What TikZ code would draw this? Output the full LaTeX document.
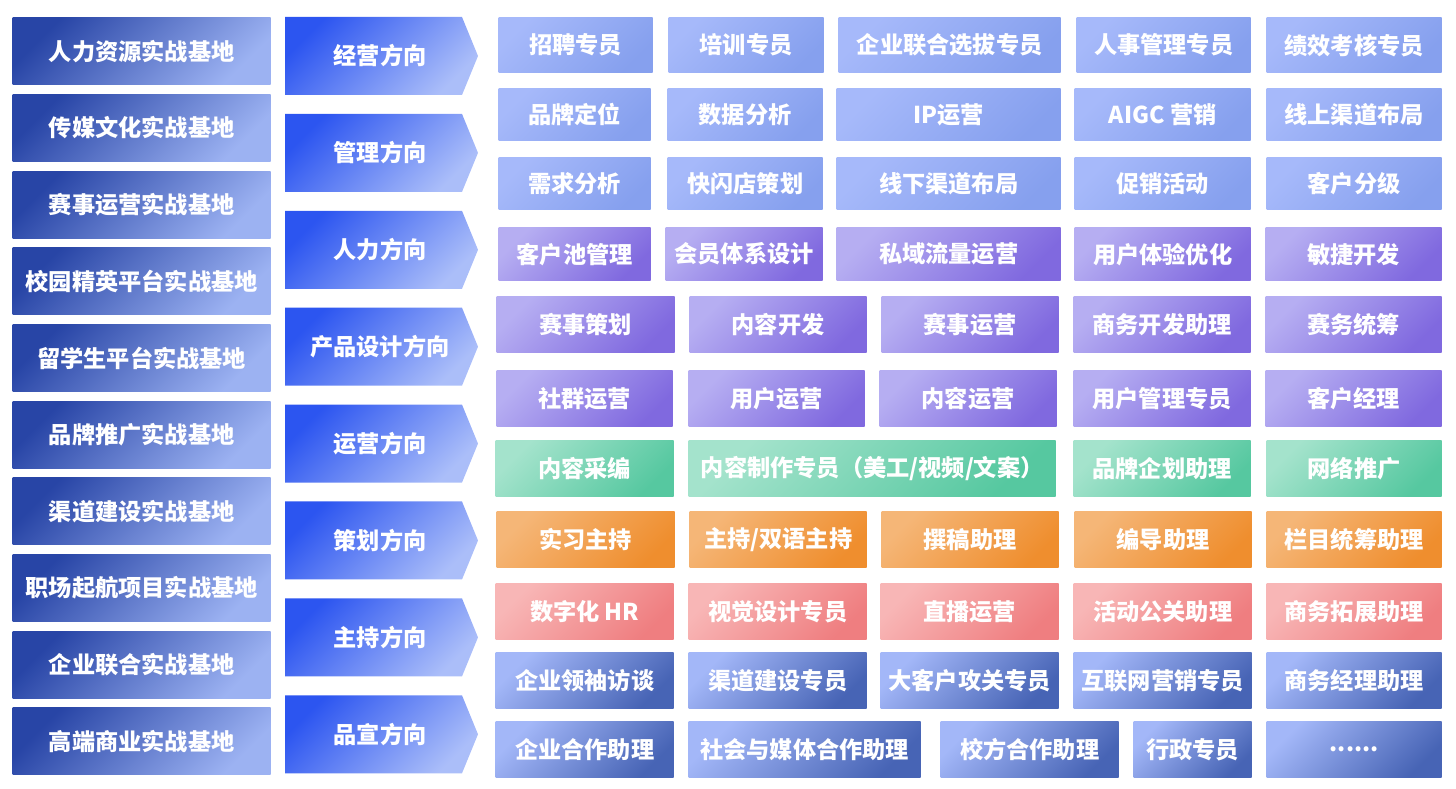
\documentclass[tikz,border=0pt]{standalone}
\usepackage{fontspec}
\setmainfont{Noto Sans CJK SC}
\usetikzlibrary{calc}

\tikzset{
    lbl/.style={text=white, font=\bfseries\fontsize{6.6}{8}\selectfont, inner sep=0pt},
    shadeit/.style 2 args={top color=#1, bottom color=#2, shading angle=45},
    cellblue/.style={shadeit={cellA}{cellB}},
    cellpurple/.style={shadeit={purA}{purB}},
    cellgreen/.style={shadeit={grnA}{grnB}},
    cellorange/.style={shadeit={oraA}{oraB}},
    cellpink/.style={shadeit={pnkA}{pnkB}},
    celldeep/.style={shadeit={depA}{depB}},
}
\definecolor{baseA}{HTML}{2845A6}
\definecolor{baseB}{HTML}{9CB2F2}
\definecolor{arrA}{HTML}{2C55F0}
\definecolor{arrB}{HTML}{ABBEF9}
\definecolor{cellA}{HTML}{A6B9FA}
\definecolor{cellB}{HTML}{86A0EE}
\definecolor{purA}{HTML}{B6AEF2}
\definecolor{purB}{HTML}{8069DF}
\definecolor{grnA}{HTML}{A4E3CC}
\definecolor{grnB}{HTML}{56C8A0}
\definecolor{oraA}{HTML}{F5B677}
\definecolor{oraB}{HTML}{EF8E2E}
\definecolor{pnkA}{HTML}{F8B6B6}
\definecolor{pnkB}{HTML}{EF7E80}
\definecolor{depA}{HTML}{A3B7F8}
\definecolor{depB}{HTML}{4764B5}

% one grid cell: style, name, x1, x2, y1, y2, text
\newcommand\gridcell[7]{%
    \node[#1, lbl, anchor=north west, minimum width={(#4-#3)*0.01cm},
        minimum height={(#6-#5)*0.01cm}] (#2) at (#3,#5) {#7};}

\begin{document}
\begin{tikzpicture}[x=0.01cm, y=-0.01cm]
\useasboundingbox (0,0) rectangle (1456,789);

% Left column: bases
\foreach \t [count=\i] in {人力资源实战基地,传媒文化实战基地,赛事运营实战基地,校园精英平台实战基地,留学生平台实战基地,品牌推广实战基地,渠道建设实战基地,职场起航项目实战基地,企业联合实战基地,高端商业实战基地} {
    \pgfmathsetmacro{\ytop}{17+(\i-1)*76.7}
    \gridcell{shadeit={baseA}{baseB}}{base\i}{12}{270}{\ytop}{\ytop+67}{\t}
}

% Middle column: directions
\foreach \t [count=\i] in {经营方向,管理方向,人力方向,产品设计方向,运营方向,策划方向,主持方向,品宣方向} {
    \pgfmathsetmacro{\ytop}{17+(\i-1)*96.9}
    \shade[shadeit={arrA}{arrB}] (285,\ytop) -- (462,\ytop) -- (478,\ytop+39)
        -- (462,\ytop+78) -- (285,\ytop+78) -- cycle;
    \node[lbl] (dir\i) at (380,\ytop+39) {\t};
}

% Right grid
\foreach \a/\b/\t [count=\j] in {498/652/招聘专员,668/823/培训专员,838/1060/企业联合选拔专员,1076/1250/人事管理专员,1266/1441/绩效考核专员}
    {\gridcell{cellblue}{ra\j}{\a}{\b}{17}{72}{\t}}
\foreach \a/\b/\t [count=\j] in {498/650/品牌定位,667/822/数据分析,836/1060/IP运营,1074/1250/AIGC 营销,1266/1441/线上渠道布局}
    {\gridcell{cellblue}{rb\j}{\a}{\b}{88}{140}{\t}}
\foreach \a/\b/\t [count=\j] in {498/650/需求分析,667/822/快闪店策划,836/1060/线下渠道布局,1074/1250/促销活动,1266/1441/客户分级}
    {\gridcell{cellblue}{rc\j}{\a}{\b}{157}{209}{\t}}
\foreach \a/\b/\t [count=\j] in {498/650/客户池管理,665/822/会员体系设计,836/1060/私域流量运营,1074/1250/用户体验优化,1265/1441/敏捷开发}
    {\gridcell{cellpurple}{rd\j}{\a}{\b}{227}{280}{\t}}
\foreach \a/\b/\t [count=\j] in {496/674/赛事策划,689/866/内容开发,881/1058/赛事运营,1073/1250/商务开发助理,1265/1441/赛务统筹}
    {\gridcell{cellpurple}{re\j}{\a}{\b}{296}{352}{\t}}
\foreach \a/\b/\t [count=\j] in {496/672/社群运营,688/864/用户运营,879/1056/内容运营,1073/1250/用户管理专员,1265/1441/客户经理}
    {\gridcell{cellpurple}{rf\j}{\a}{\b}{370}{426}{\t}}
\gridcell{cellgreen}{rg1}{495}{673}{440}{496}{内容采编}
\gridcell{cellgreen}{rg2}{688}{1055}{440}{496}{内容制作专员（美工/视频/文案）}
\gridcell{cellgreen}{rg3}{1073}{1250}{440}{496}{品牌企划助理}
\gridcell{cellgreen}{rg4}{1266}{1441}{440}{496}{网络推广}
\gridcell{cellorange}{rh1}{496}{674}{511}{567}{实习主持}
\gridcell{cellorange}{rh2}{689}{866}{511}{567}{主持/双语主持}
\gridcell{cellorange}{rh3}{881}{1058}{511}{567}{撰稿助理}
\gridcell{cellorange}{rh4}{1074}{1251}{511}{567}{编导助理}
\gridcell{cellorange}{rh5}{1266}{1441}{511}{567}{栏目统筹助理}
\foreach \a/\b/\t [count=\j] in {495/673/数字化 HR,688/866/视觉设计专员,880/1058/直播运营,1073/1251/活动公关助理,1266/1441/商务拓展助理}
    {\gridcell{cellpink}{ri\j}{\a}{\b}{583}{639}{\t}}
\foreach \a/\b/\t [count=\j] in {495/673/企业领袖访谈,688/866/渠道建设专员,880/1058/大客户攻关专员,1073/1251/互联网营销专员,1266/1441/商务经理助理}
    {\gridcell{celldeep}{rj\j}{\a}{\b}{652}{708}{\t}}
\foreach \a/\b/\t [count=\j] in {495/673/企业合作助理,688/920/社会与媒体合作助理,940/1118/校方合作助理,1133/1251/行政专员}
    {\gridcell{celldeep}{rk\j}{\a}{\b}{721}{777}{\t}}
\gridcell{celldeep}{rk5}{1266}{1441}{721}{777}{......}

\end{tikzpicture}
\end{document}
